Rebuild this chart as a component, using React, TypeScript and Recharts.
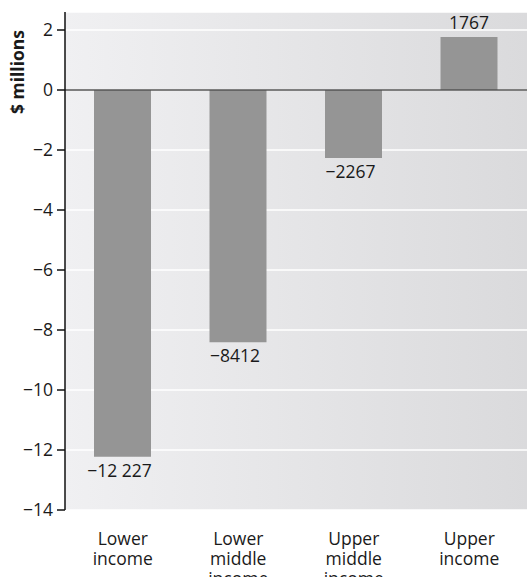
import React from "react";
import {
    Bar,
    BarChart,
    CartesianGrid,
    LabelList,
    ReferenceLine,
    XAxis,
    YAxis,
} from "recharts";

const categories = ["Lower income", "Lower middle income", "Upper middle income", "Upper income"];
const categoryLines = [["Lower", "income"], ["Lower", "middle", "income"], ["Upper", "middle", "income"], ["Upper", "income"]];
const values = [-12227, -8412, -2267, 1767];
const yTicks = [2000, 0, -2000, -4000, -6000, -8000, -10000, -12000, -14000];

const data = categories.map((name, i) => ({ name, lines: categoryLines[i], value: values[i] }));

const FONT = "'Open Sans', 'Noto Sans', sans-serif";
const MINUS = "\u2212";

const formatValue = (v: number) => {
    const abs = Math.abs(v);
    let s = String(abs);
    if (abs >= 10000) s = s.replace(/\B(?=(\d{3})+(?!\d))/g, " ");
    return (v < 0 ? MINUS : "") + s;
};

const ValueLabel = (props: any) => {
    const { x, y, width, height, value } = props;
    const top = Math.min(y, y + height);
    const bottom = Math.max(y, y + height);
    const cx = x + width / 2 - (value < 0 ? 3 : 0);
    const ty = value < 0 ? bottom + 20 : top - 8;
    return (
        <text x={cx} y={ty} textAnchor="middle" fill="#1a1a1a" style={{ fontSize: 17.5, fontFamily: FONT }}>
            {formatValue(value)}
        </text>
    );
};

const XTick = (props: any) => {
    const { x, y, index } = props;
    const lines = data[index]?.lines ?? [];
    return (
        <g transform={`translate(${x},${y})`}>
            {lines.map((l: string, i: number) => (
                <text key={i} x={0} y={27 + i * 20} textAnchor="middle" fill="#1a1a1a" style={{ fontSize: 17.5, fontFamily: FONT }}>
                    {l}
                </text>
            ))}
        </g>
    );
};

const YTitle = () => (
    <text
        x={17}
        y={72}
        transform="rotate(-90, 17, 72)"
        textAnchor="middle"
        dominantBaseline="central"
        fill="#1a1a1a"
        style={{ fontSize: 17.5, fontWeight: 700, fontFamily: FONT }}
    >
        $ millions
    </text>
);

export default function App() {
    return (
        <div style={{ width: 527, height: 577, background: "#ffffff" }}>
            <style>{"body{margin:0}"}</style>
            <BarChart
                width={527}
                height={577}
                data={data}
                margin={{ top: 12, right: 0, bottom: 0, left: 0 }}
                barSize={57}
            >
                <defs>
                    <linearGradient id="bg" x1="0" y1="0" x2="1" y2="0">
                        <stop offset="0%" stopColor="#f0f0f2" />
                        <stop offset="100%" stopColor="#dadadc" />
                    </linearGradient>
                </defs>
                <CartesianGrid
                    vertical={false}
                    horizontal={true}
                    stroke="#ffffff"
                    strokeWidth={1.5}
                    fill="url(#bg)"
                    fillOpacity={1}
                />
                <XAxis
                    dataKey="name"
                    axisLine={false}
                    tickLine={false}
                    interval={0}
                    height={67}
                    tick={<XTick />}
                />
                <YAxis
                    width={65}
                    domain={[-14000, 2600]}
                    ticks={yTicks}
                    allowDataOverflow
                    axisLine={{ stroke: "#111111", strokeWidth: 1.5 }}
                    tickLine={{ stroke: "#111111", strokeWidth: 1.5 }}
                    tickSize={8}
                    tickMargin={4}
                    tick={{ fill: "#1a1a1a", fontSize: 17.5, fontFamily: FONT }}
                    tickFormatter={(v: number) => (v < 0 ? MINUS : "") + Math.abs(v / 1000)}
                    label={{ content: () => <YTitle /> }}
                />
                <ReferenceLine y={0} stroke="#555555" strokeWidth={1.5} />
                <Bar dataKey="value" fill="#959595" isAnimationActive={false}>
                    <LabelList dataKey="value" content={<ValueLabel />} />
                </Bar>
            </BarChart>
        </div>
    );
}
